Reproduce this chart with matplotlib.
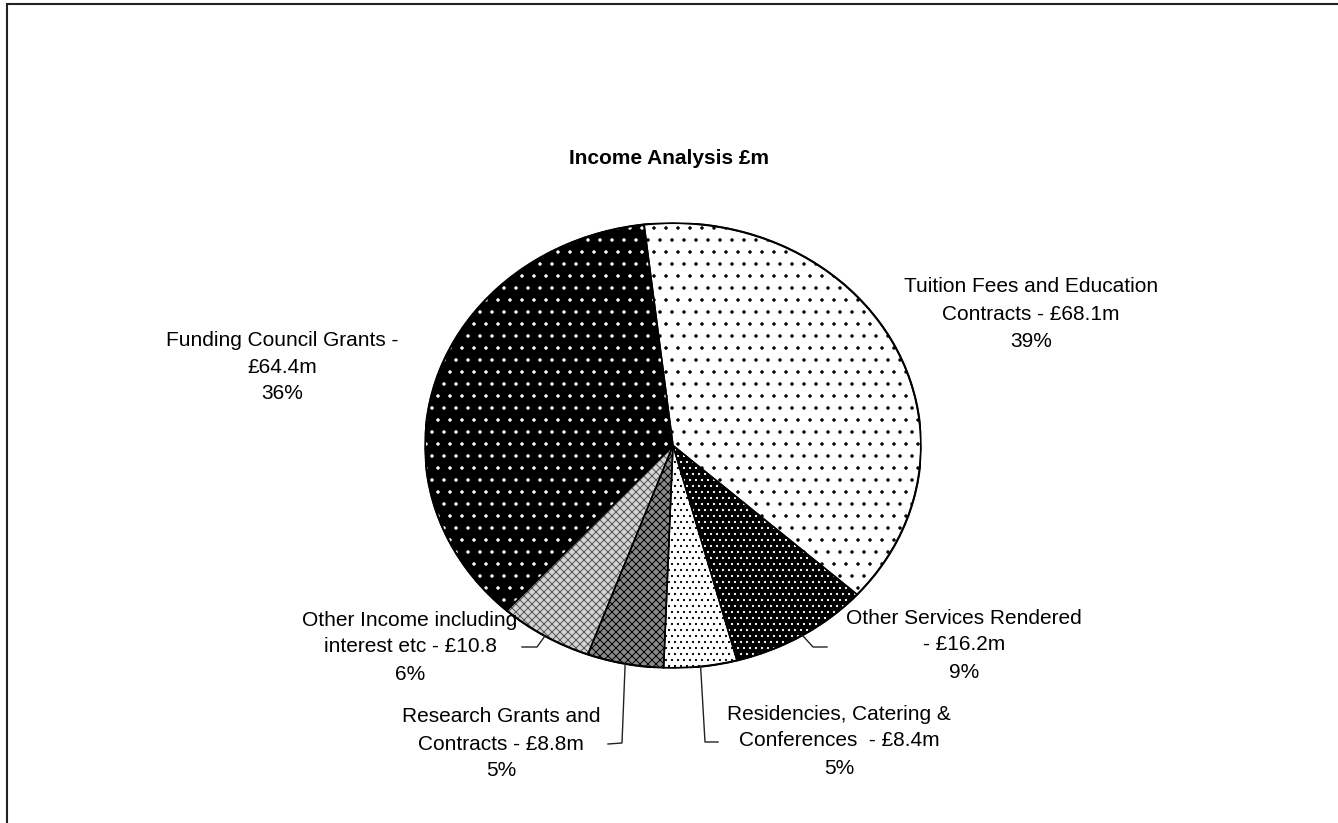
import numpy as np
import matplotlib
matplotlib.use("Agg")
import matplotlib.pyplot as plt
from matplotlib.lines import Line2D
from matplotlib.patches import Rectangle, Ellipse

# ---- data ----
names = ["Tuition Fees and Education Contracts", "Other Services Rendered",
         "Residencies, Catering & Conferences", "Research Grants and Contracts",
         "Other Income including interest etc", "Funding Council Grants"]
values = [68.1, 16.2, 8.4, 8.8, 10.8, 64.4]
label_lines = [
    ["Tuition Fees and Education", "Contracts - £68.1m"],
    ["Other Services Rendered", "- £16.2m"],
    ["Residencies, Catering &", "Conferences  - £8.4m"],
    ["Research Grants and", "Contracts - £8.8m"],
    ["Other Income including", "interest etc - £10.8"],
    ["Funding Council Grants -", "£64.4m"],
]
title = "Income Analysis £m"

# ---- styles (face, hatch, hatch colour) ----
faces = ["white", "black", "white", "#8a8a8a", "#d4d4d4", "black"]
hatches = [".", "..", "..", "xxx", "xxx", "."]
hcols = ["black", "white", "black", "black", "#555555", "white"]

# 72 dpi so one hatch tile = 72 px (gives the fine Excel-like dot spacing)
W, H, DPI = 1338, 823, 72
PT = 100 / 72          # sizes below are tuned in "100 dpi" points
FS = 15 * PT
plt.rcParams["font.family"] = ["Liberation Sans", "DejaVu Sans"]
plt.rcParams["hatch.linewidth"] = 1.0

fig = plt.figure(figsize=(W / DPI, H / DPI), dpi=DPI)

def px(x, y):
    return x / W, 1 - y / H

# pie box in pixels (elliptical pie)
L, T, R, B = 425, 223, 921, 668
ax = fig.add_axes([L / W, 1 - B / H, (R - L) / W, (B - T) / H])
start = 96.7
wedges, _ = ax.pie(values, startangle=start, counterclock=False, radius=1)
for w, fc, h, hc in zip(wedges, faces, hatches, hcols):
    w.set_facecolor(fc)
    w.set_hatch(h)
    w.set_edgecolor(hc)   # edge colour doubles as hatch colour
    w.set_linewidth(0)
ax.pie(values, startangle=start, counterclock=False, radius=1,
       wedgeprops=dict(fill=False, edgecolor="black", linewidth=1.1 * PT))
ax.add_patch(Ellipse((0, 0), 2, 2, fill=False, edgecolor="black", linewidth=1.5 * PT))
ax.set_aspect("auto")
ax.set_xlim(-1, 1)
ax.set_ylim(-1, 1)
ax.axis("off")

# percentages
total = sum(values)
pcts = [f"{round(v / total * 100):.0f}%" for v in values]

# label anchor (centre x, first-line y) in pixels
label_pos = [(1031, 287), (964, 618), (839, 714), (501, 717), (410, 620), (282, 340)]
step = 27
for lines, p, (cx, cy) in zip(label_lines, pcts, label_pos):
    for i, s in enumerate(lines + [p]):
        fig.text(*px(cx, cy + i * step), s, ha="center", va="center", fontsize=FS)

# leader lines: start at wedge mid-angle on the rim, then elbow to label
leaders = {1: [(813, 647), (827, 647)], 2: [(705, 742), (718, 742)],
           3: [(622, 743), (608, 744)], 4: [(537, 647), (522, 647)]}
to_fig = fig.transFigure.inverted()
for i, pts in leaders.items():
    w = wedges[i]
    mid = np.deg2rad((w.theta1 + w.theta2) / 2)
    sx, sy = to_fig.transform(ax.transData.transform((np.cos(mid), np.sin(mid))))
    xs = [sx] + [px(*q)[0] for q in pts]
    ys = [sy] + [px(*q)[1] for q in pts]
    fig.add_artist(Line2D(xs, ys, color="#222222", linewidth=1.0 * PT))

fig.text(*px(669, 158), title, ha="center", va="center", fontsize=FS, fontweight="bold")

# chart-area frame (right and bottom edges fall outside the image)
fig.add_artist(Rectangle(px(7, 900), 1500 / W, (900 - 4) / H, fill=False,
                         edgecolor="#222222", linewidth=1.5 * PT, transform=fig.transFigure))

fig.savefig("out.png", dpi=DPI, facecolor="white")
